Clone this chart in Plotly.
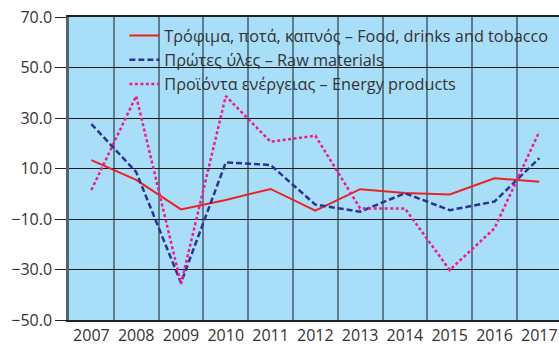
import plotly.graph_objects as go

years = ["2007", "2008", "2009", "2010", "2011", "2012", "2013", "2014", "2015", "2016", "2017"]

food = [13.3, 5.5, -6.2, -2.5, 1.9, -6.7, 1.8, 0.3, -0.3, 6.1, 4.8]
raw = [27.6, 8.6, -35.3, 12.4, 11.4, -4.3, -7.1, 0.2, -6.5, -3.1, 14.1]
energy = [1.5, 38.7, -35.7, 38.7, 20.6, 23.0, -5.8, -5.8, -30.2, -13.7, 24.6]

names = [
    "Τρόφιμα, ποτά, καπνός – Food, drinks and tobacco",
    "Πρώτες ύλες – Raw materials",
    "Προϊόντα ενέργειας – Energy products",
]

text_color = "#333333"
font_family = "Open Sans, Noto Sans, sans-serif"

fig = go.Figure()
fig.add_trace(go.Scatter(x=years, y=food, name=names[0], mode="lines",
                         line=dict(color="#EE2024", width=2)))
fig.add_trace(go.Scatter(x=years, y=raw, name=names[1], mode="lines",
                         line=dict(color="#2E3192", width=2.5, dash="6px,3px")))
fig.add_trace(go.Scatter(x=years, y=energy, name=names[2], mode="lines",
                         line=dict(color="#EC1C8C", width=2.5, dash="3px,2.5px")))

fig.update_layout(
    width=559,
    height=349,
    margin=dict(l=69, r=0, t=17, b=29),
    paper_bgcolor="white",
    plot_bgcolor="#A9DEF9",
    font=dict(family=font_family, size=16, color=text_color),
    legend=dict(
        x=0.113, y=0.995, xanchor="left", yanchor="top",
        bgcolor="rgba(0,0,0,0)",
        font=dict(size=16.3, color=text_color),
        tracegroupgap=0,
        itemwidth=30,
    ),
    xaxis=dict(
        type="category",
        tickson="boundaries",
        range=[-0.5, 10.44],
        showgrid=True,
        gridcolor="rgba(40,60,70,0.6)",
        gridwidth=2,
        ticks="",
        showline=True,
        mirror=True,
        linecolor="#222222",
        linewidth=1.5,
        tickfont=dict(size=16, color=text_color),
    ),
    yaxis=dict(
        range=[-50, 70],
        tick0=-50,
        dtick=20,
        tickformat=".1f",
        showgrid=True,
        gridcolor="#1a1a1a",
        gridwidth=1.2,
        zeroline=False,
        ticks="outside",
        ticklen=11,
        tickcolor="#222222",
        tickwidth=1.2,
        showline=True,
        linecolor="rgba(40,60,70,0.8)",
        linewidth=2.5,
        tickfont=dict(size=16, color=text_color),
    ),
)

fig.write_html("out.html")
